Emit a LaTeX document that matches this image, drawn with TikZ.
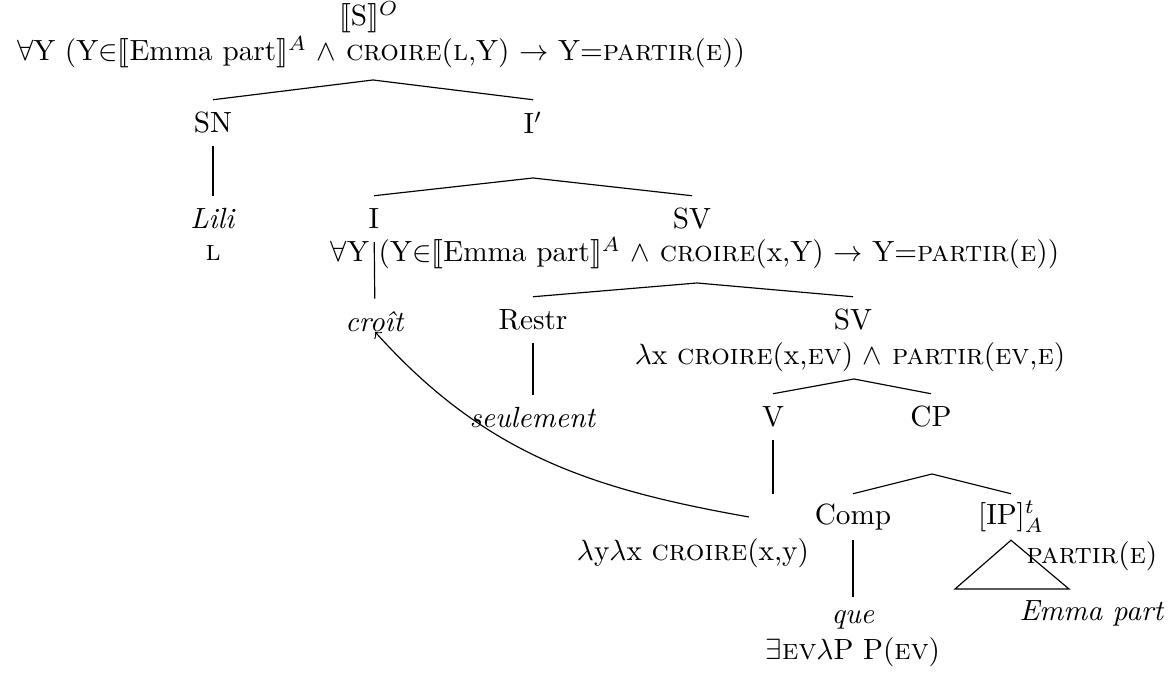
\documentclass[tikz,border=0pt]{standalone}
\usepackage{stmaryrd}
\begin{document}
\begin{tikzpicture}[x=0.342pt, y=0.342pt]

        % Stili per etichette e semantica
        \tikzstyle{etichetta}=[inner sep=0pt, minimum height=15.5pt]
        \tikzstyle{semantica}=[inner sep=0pt]

        \useasboundingbox (0,0) rectangle (1171,673);

        % Radice S
        \node[etichetta] (S) at (369,656) {$\llbracket$S$\rrbracket^O$};
        \node[semantica] (Ssem) at (381,621) {$\forall$Y (Y$\in${}$\llbracket$Emma part$\rrbracket^A$ $\wedge$ \textsc{croire}(\textsc{l},Y) $\rightarrow$ Y=\textsc{partir}(\textsc{e}))};
        \coordinate (apS) at (373,593);

        % SN e I'
        \node[etichetta] (SN) at (213,550) {SN};
        \node[etichetta] (Ip) at (533,550) {I$'$};
        \coordinate (apIp) at (533,495);
        \node[etichetta] (Lili) at (213,454) {\textit{Lili}};
        \node[semantica] (Lsem) at (213,420) {\textsc{l}};

        % I e SV
        \node[etichetta] (I) at (374,454) {I};
        \node[etichetta] (SV) at (692,454) {SV};
        \node[semantica] (SVsem) at (695,420) {$\forall$Y (Y$\in${}$\llbracket$Emma part$\rrbracket^A$ $\wedge$ \textsc{croire}(x,Y) $\rightarrow$ Y=\textsc{partir}(\textsc{e}))};
        \coordinate (apSV) at (697,390);

        % croit, Restr, SV interno
        \node[etichetta] (croit) at (375,351) {\textit{croît}};
        \node[etichetta] (Restr) at (533,353) {Restr};
        \node[etichetta] (SVb) at (853,353) {SV};
        \node[semantica] (SVbsem) at (850,316) {$\lambda$x \textsc{croire}(x,\textsc{ev}) $\wedge$ \textsc{partir}(\textsc{ev},\textsc{e})};
        \coordinate (apSVb) at (854,294);
        \node[etichetta] (seul) at (533,255) {\textit{seulement}};

        % V e CP
        \node[etichetta] (V) at (773,256) {V};
        \node[etichetta] (CP) at (931,256) {CP};
        \coordinate (apCP) at (932,199);
        \node[etichetta, minimum width=16pt] (tr) at (773,156) {};
        \node[semantica] (trsem) at (693,120) {$\lambda$y$\lambda$x \textsc{croire}(x,y)};

        % Comp e IP
        \node[etichetta] (Comp) at (853,156) {Comp};
        \node[etichetta] (IP) at (1011,156) {[IP]$^t_A$};
        \node[semantica] (IPsem) at (1092,117) {\textsc{partir}(\textsc{e})};
        \coordinate (IPl) at (955,84);
        \coordinate (IPr) at (1069,84);
        \node[etichetta] (EP) at (1092,60) {\textit{Emma part}};
        \node[etichetta] (que) at (853,53) {\textit{que}};
        \node[semantica] (quesem) at (853,21) {$\exists$\textsc{ev}$\lambda$P P(\textsc{ev})};

        % Rami
        \draw (SN.north) -- (apS) -- (Ip.north);
        \draw (I.north) -- (apIp) -- (SV.north);
        \draw (Restr.north) -- (apSV) -- (SVb.north);
        \draw (V.north) -- (apSVb) -- (CP.north);
        \draw (Comp.north) -- (apCP) -- (IP.north);
        \draw (SN) -- (Lili);
        \draw (I) -- (croit);
        \draw (Restr) -- (seul);
        \draw (V) -- (tr);
        \draw (Comp) -- (que);
        \draw (IP.south) -- (IPl) -- (IPr) -- cycle;

        % Movimento del verbo
        \draw[->] (tr.west) to[out=170, in=-48] (croit.base);

\end{tikzpicture}
\end{document}
